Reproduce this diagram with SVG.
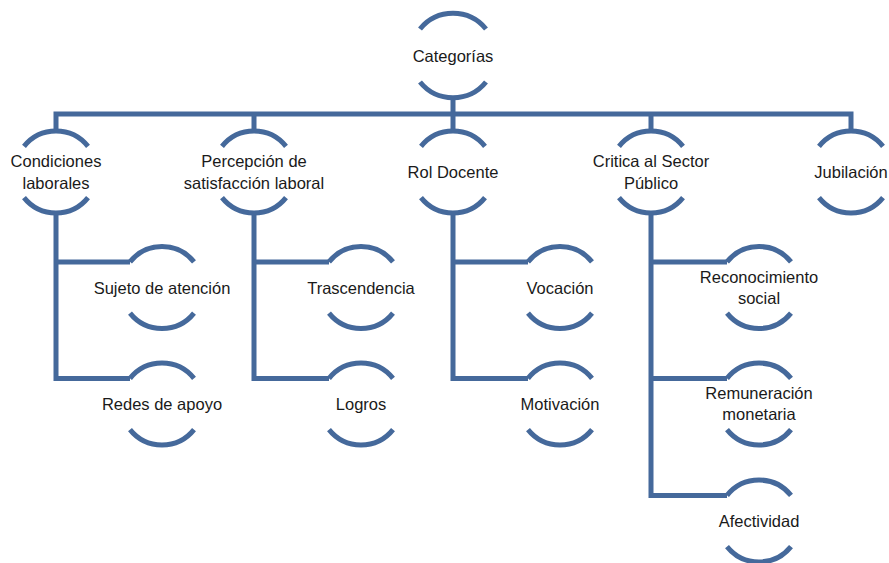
<svg xmlns="http://www.w3.org/2000/svg" width="889" height="563" viewBox="0 0 889 563">
<style>
.arc{fill:none;stroke:#45699B;stroke-width:5}
.ln{fill:none;stroke:#45699B;stroke-width:5;stroke-linejoin:miter}
text{font-family:"Liberation Sans",Arial,sans-serif;font-size:16.5px;fill:#1a1a1a;text-anchor:middle}
</style>
<defs>
<path id="c" class="arc" d="M-32,-25.6 A41,41 0 0 1 32,-25.6 M-32,25.6 A41,41 0 0 0 32,25.6"/>
</defs>
<rect width="889" height="563" fill="#fff"/>
<g id="connectors">
<path class="ln" d="M453,97 V114 M56,131 V114 H851 V131 M254,114 V131 M453,114 V131 M651,114 V131"/>
<path class="ln" d="M56,213 V378.5 H130 M56,262 H130"/>
<path class="ln" d="M254,213 V378.5 H329 M254,262 H329"/>
<path class="ln" d="M453,213 V378.5 H528 M453,262 H528"/>
<path class="ln" d="M651,213 V495.5 H727 M651,262 H727 M651,378.5 H727"/>
</g>
<g id="categorias" transform="translate(453,55.5)"><path class="arc" d="M-33,-26.5 A42.5,42.5 0 0 1 33,-26.5 M-33,26.5 A42.5,42.5 0 0 0 33,26.5"/><text y="6">Categorías</text></g>
<g id="condiciones" transform="translate(56,172)"><use href="#c"/><text y="-5">Condiciones</text><text y="17">laborales</text></g>
<g id="percepcion" transform="translate(254,172)"><use href="#c"/><text y="-5">Percepción de</text><text y="17">satisfacción laboral</text></g>
<g id="rol" transform="translate(453,172)"><use href="#c"/><text y="6">Rol Docente</text></g>
<g id="critica" transform="translate(651,172)"><use href="#c"/><text y="-5">Critica al Sector</text><text y="17">Público</text></g>
<g id="jubilacion" transform="translate(851,172)"><use href="#c"/><text y="6">Jubilación</text></g>
<g id="sujeto" transform="translate(162,287.5)"><use href="#c"/><text y="6">Sujeto de atención</text></g>
<g id="redes" transform="translate(162,404)"><use href="#c"/><text y="6">Redes de apoyo</text></g>
<g id="trascendencia" transform="translate(361,287.5)"><use href="#c"/><text y="6">Trascendencia</text></g>
<g id="logros" transform="translate(361,404)"><use href="#c"/><text y="6">Logros</text></g>
<g id="vocacion" transform="translate(560,287.5)"><use href="#c"/><text y="6">Vocación</text></g>
<g id="motivacion" transform="translate(560,404)"><use href="#c"/><text y="6">Motivación</text></g>
<g id="reconocimiento" transform="translate(759,287.5)"><use href="#c"/><text y="-5">Reconocimiento</text><text y="16">social</text></g>
<g id="remuneracion" transform="translate(759,404)"><use href="#c"/><text y="-5">Remuneración</text><text y="16">monetaria</text></g>
<g id="afectividad" transform="translate(759,521)"><use href="#c"/><text y="6">Afectividad</text></g>
</svg>
